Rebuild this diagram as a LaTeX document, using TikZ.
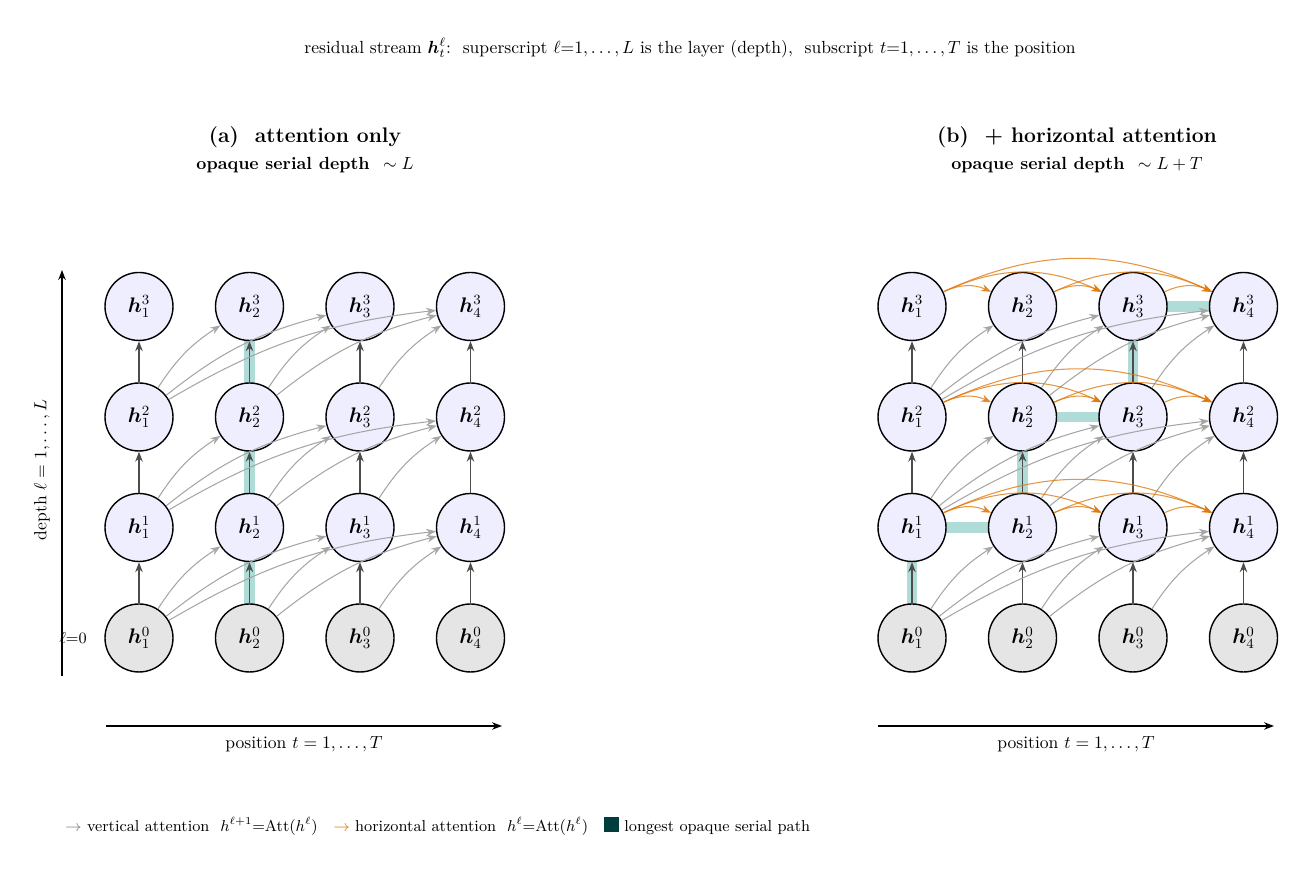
\documentclass[tikz,border=0pt]{standalone}
\usepackage{amsmath,bm}
\usetikzlibrary{arrows.meta}
\definecolor{lav}{HTML}{EEEEFF}
\definecolor{pathc}{HTML}{003D3D}
\definecolor{pathl}{HTML}{B0DCD8}
\definecolor{horc}{HTML}{E07A10}
\tikzset{
  hnode/.style={circle,draw,thick,fill=lav,minimum size=1.36cm,inner sep=0pt,font=\large},
  hzero/.style={hnode,fill=gray!20},
  vert/.style={-{Stealth[length=2mm]},draw=black!70,thick},
  vatt/.style={-{Stealth[length=2mm]},draw=gray!70,semithick,bend left=12},
  hatt/.style={-{Stealth[length=2mm]},draw=horc,opacity=0.8,semithick,bend left=25},
  lpath/.style={line width=6pt,draw=pathl}
}
\begin{document}
\begin{tikzpicture}
\useasboundingbox (0,0) rectangle (26.12,17.42);

% titles
\node at (13.8,16.46) {residual stream $\bm{h}_t^\ell$:\ \ superscript $\ell{=}1,\dots,L$ is the layer (depth),\ \ subscript $t{=}1,\dots,T$ is the position};
\node at (6.1,14.68) {\large\bfseries (a)\ \ attention only};
\node at (6.1,14.12) {\bfseries opaque serial depth\ \ $\sim L$};
\node at (21.54,14.68) {\large\bfseries (b)\ \ + horizontal attention};
\node at (21.54,14.12) {\bfseries opaque serial depth\ \ $\sim L+T$};

% longest opaque serial path (drawn first, behind the nodes)
\foreach \p/\x in {a/2.78,b/18.24}
  \foreach \i in {1,...,4}
    \foreach \l in {0,...,3}
      \coordinate (\p\l\i) at ({\x+(\i-1)*2.21},{4.66+\l*2.21});
\draw[lpath] (a02) -- (a12) -- (a22) -- (a32);
\draw[lpath] (b01) -- (b11) -- (b12) -- (b22) -- (b23) -- (b33) -- (b34);

% grids
\foreach \p/\x in {a/2.78,b/18.24}{
  \foreach \i in {1,...,4}{
    \node[hzero] (\p0\i) at ({\x+(\i-1)*2.21},4.66) {$\bm{h}_{\i}^{0}$};
    \foreach \l in {1,2,3}
      \node[hnode] (\p\l\i) at ({\x+(\i-1)*2.21},{4.66+\l*2.21}) {$\bm{h}_{\i}^{\l}$};
  }
}

\foreach \p in {a,b}{
  \foreach \l [evaluate=\l as \m using int(\l-1)] in {1,2,3}{
    \foreach \i in {1,...,4}
      \draw[vert] (\p\m\i) -- (\p\l\i);
    \foreach \i/\j in {1/2,1/3,1/4,2/3,2/4,3/4}
      \draw[vatt] (\p\m\i) to (\p\l\j);
  }
}
\foreach \l in {1,2,3}
  \foreach \i/\j in {1/2,1/3,1/4,2/3,2/4,3/4}
    \draw[hatt] (b\l\i) to (b\l\j);

% axes
\draw[-{Stealth[length=2mm]},thick] (1.24,3.9) -- (1.24,12.02);
\node[rotate=90] at (0.84,8.02) {depth $\ell=1,\dots,L$};
\node at (1.46,4.66) {\small $\ell{=}0$};
\foreach \x in {2.12,17.56}{
  \draw[-{Stealth[length=2mm]},thick] (\x,2.9) -- ++(7.92,0);
  \node at ({\x+3.96},2.54) {position $t=1,\dots,T$};
}

% legend
\node[anchor=west,inner sep=0pt] (leg) at (1.3,0.9) {\small {\color{gray}$\rightarrow$} vertical attention\ \ $h^{\ell+1}{=}\mathrm{Att}(h^\ell)$\quad
  {\color{horc}$\rightarrow$} horizontal attention\ \ $h^{\ell}{=}\mathrm{Att}(h^\ell)$\quad
  {\color{pathc}\rule{0.3cm}{0.3cm}} longest opaque serial path};
\end{tikzpicture}
\end{document}
